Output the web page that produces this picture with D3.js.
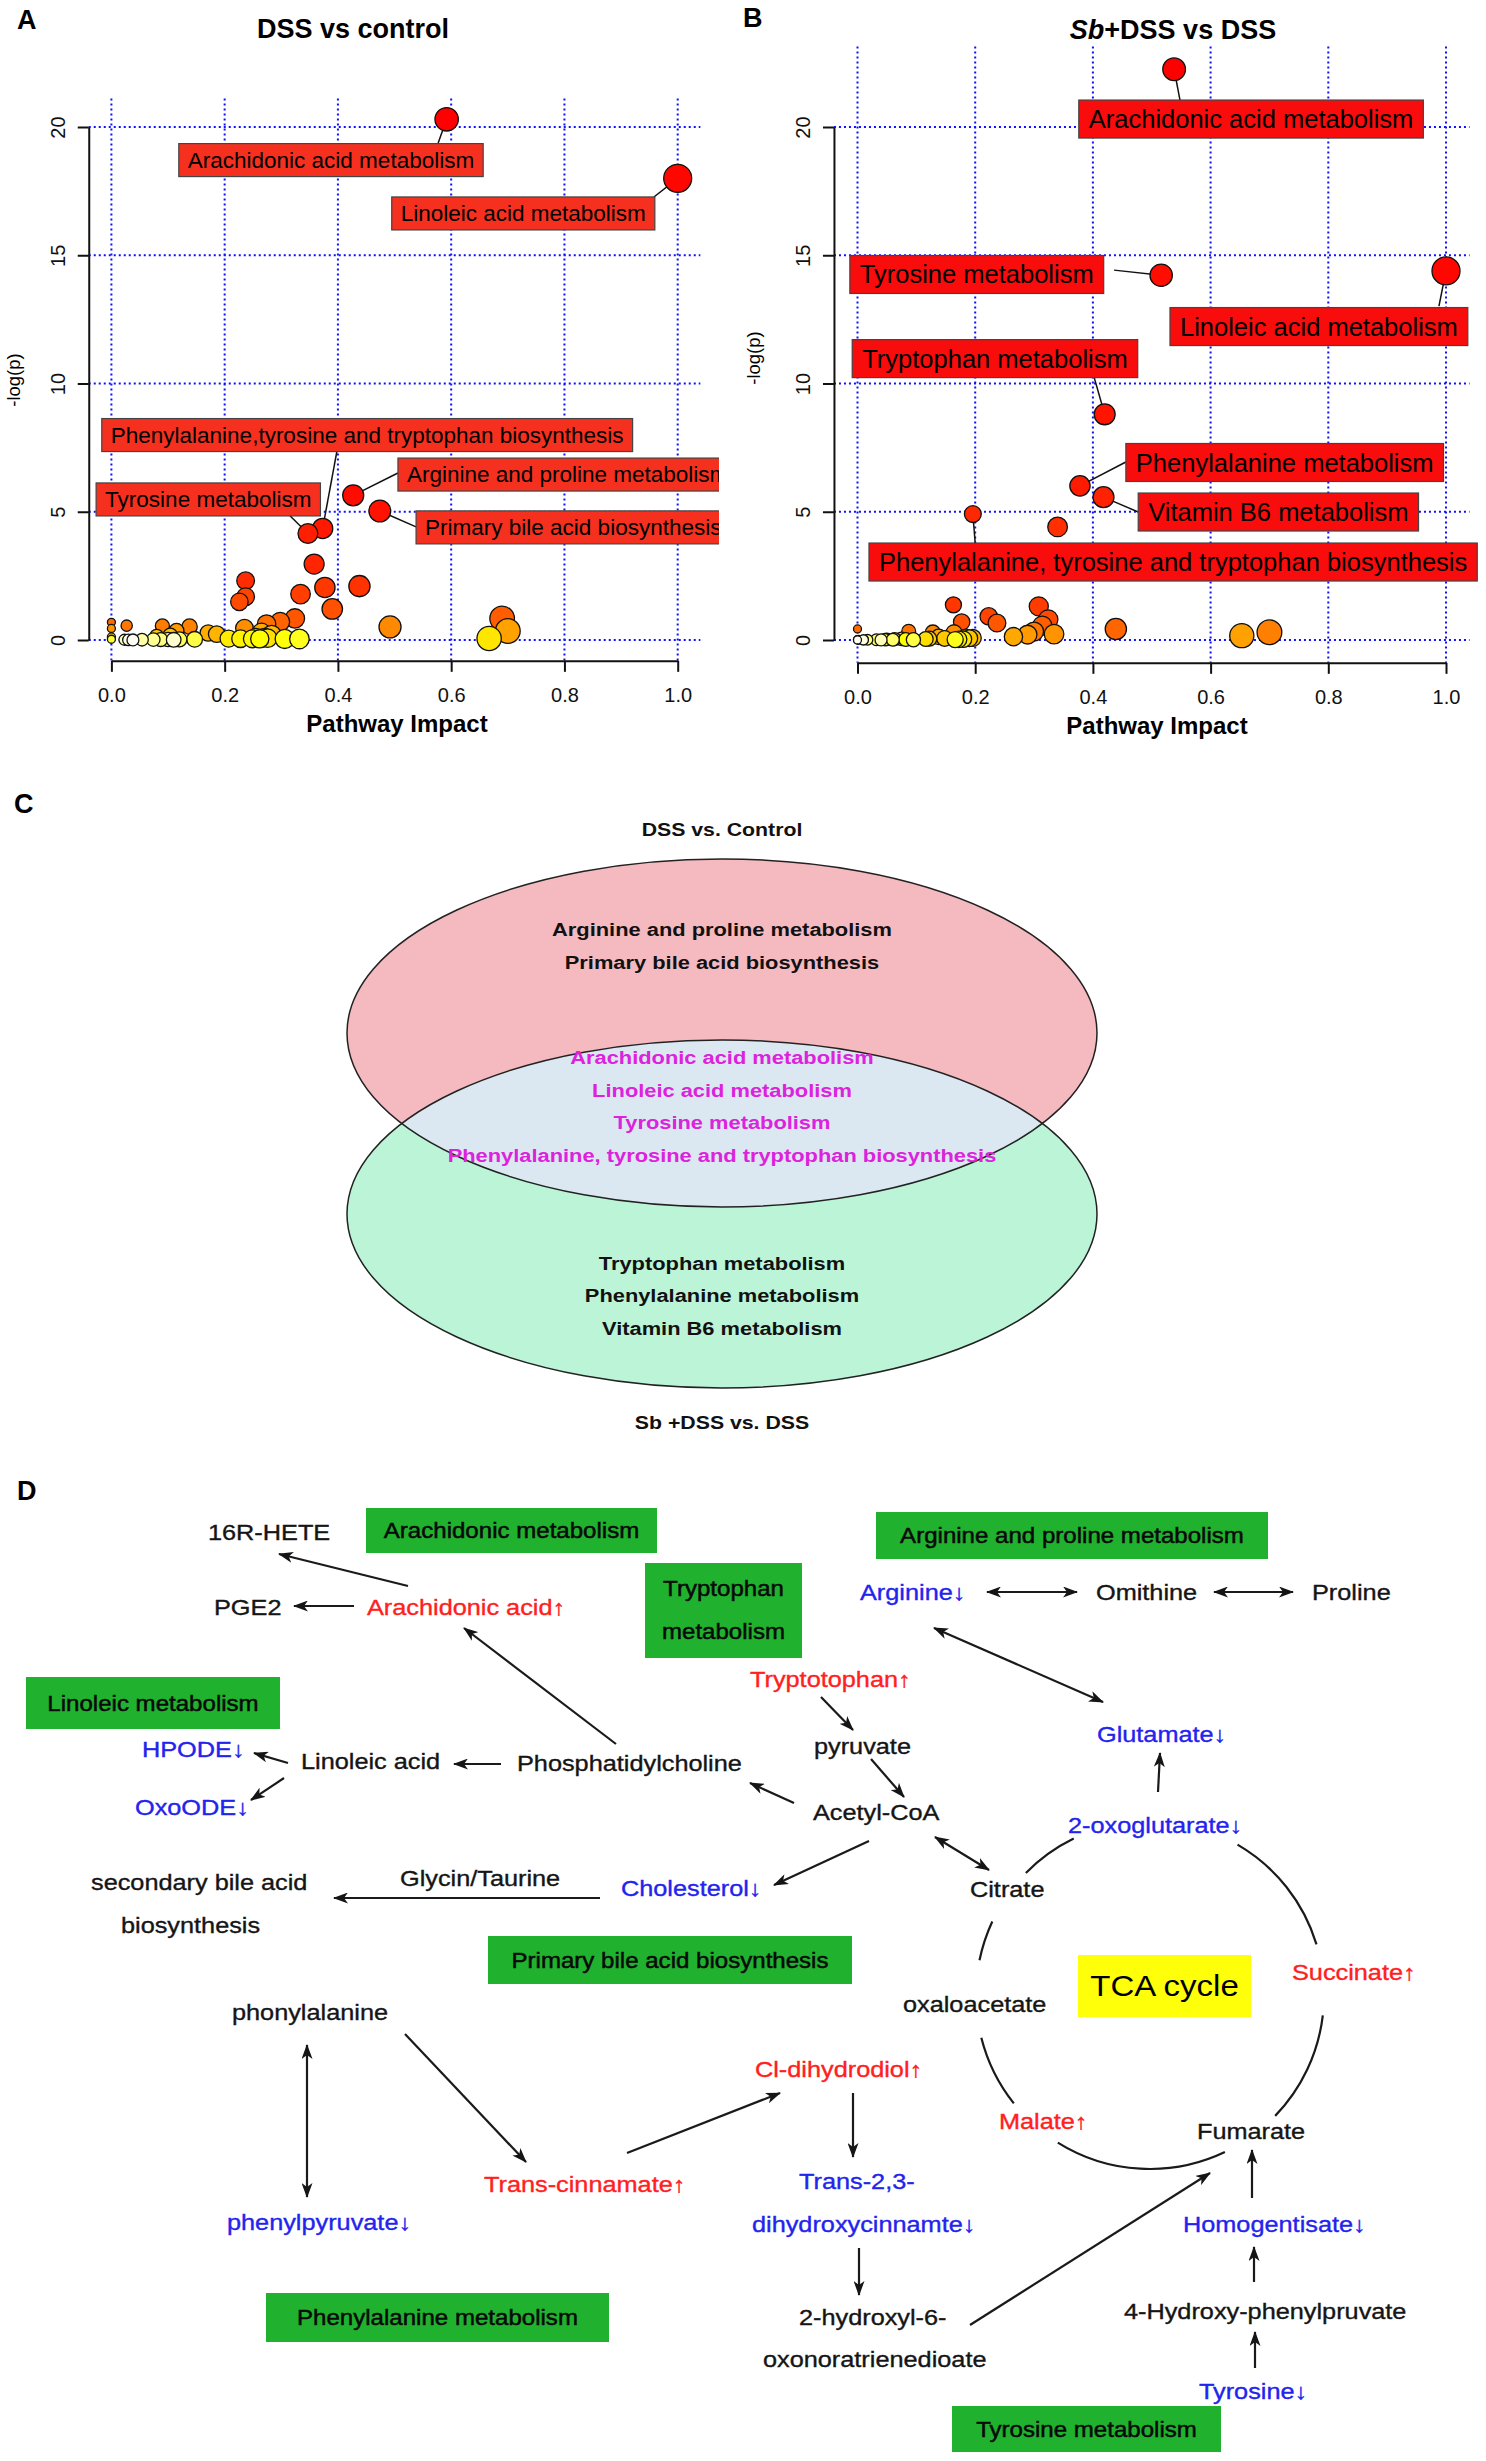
<!DOCTYPE html>
<html><head><meta charset="utf-8">
<script src="https://cdn.jsdelivr.net/npm/d3@7"></script>
<style>
body{margin:0;background:#fff}
svg{display:block}
</style>
</head><body>
<svg id="fig" width="1486" height="2461"></svg>
<script>
// ---------------- DATA ----------------
const xTicks = [0, 0.2, 0.4, 0.6, 0.8, 1.0];
const yTicks = [0, 5, 10, 15, 20];

// Panel A: DSS vs control  (pathway impact, -log(p))
const impactA = [0.592, 1.0, 0.427, 0.474, 0.373, 0.347, 0.358, 0.237, 0.438, 0.377, 0.334, 0.237, 0.226, 0.39, 0.324, 0.69,
  0.298, 0.0, 0.274, 0.027, 0.09, 0.138, 0.492, 0.235, 0.0, 0.115, 0.70, 0.265, 0.171, 0.186, 0.283, 0.104, 0.08, 0.0, 0.667, 0.207,
  0.228, 0.249, 0.262, 0.276, 0.306, 0.332, 0.27, 0.255, 0.147, 0.12, 0.10, 0.087, 0.074, 0.054, 0.0, 0.023, 0.11, 0.038, 0.03];
const logpA = [20.3, 18.0, 5.64, 5.03, 4.35, 4.15, 2.96, 2.31, 2.10, 2.05, 1.79, 1.69, 1.49, 1.21, 0.84, 0.84,
  0.71, 0.69, 0.62, 0.56, 0.55, 0.52, 0.51, 0.46, 0.45, 0.36, 0.35, 0.30, 0.27, 0.23, 0.21, 0.18, 0.15, 0.12, 0.06, 0.055,
  0.05, 0.048, 0.045, 0.07, 0.04, 0.04, 0.09, 0.1, 0.025, 0.022, 0.02, 0.018, 0.015, 0.012, 0.03, 0.01, 0.008, 0.002, 0.004];
const labelNamesA = ["Arachidonic acid metabolism", "Linoleic acid metabolism", "Arginine and proline metabolism",
  "Primary bile acid biosynthesis", "Phenylalanine,tyrosine and tryptophan biosynthesis", "Tyrosine metabolism"];
const labelPointA = [0, 1, 2, 3, 4, 5];

// Panel B: Sb+DSS vs DSS
const impactB = [0.538, 1.0, 0.516, 0.42, 0.378, 0.418, 0.196, 0.34, 0.163, 0.308, 0.223, 0.324, 0.177, 0.237, 0.314, 0.439,
  0.0, 0.087, 0.30, 0.70, 0.128, 0.164, 0.334, 0.289, 0.653, 0.265, 0.138, 0.184, 0.196, 0.19, 0.148, 0.122, 0.075, 0.116,
  0.063, 0.18, 0.172, 0.082, 0.166, 0.047, 0.032, 0.017, 0.002, 0.0, 0.0, 0.05, 0.01, 0.0, 0.01, 0.04, 0.06, 0.095];
const logpB = [22.25, 14.39, 14.22, 8.8, 6.01, 5.57, 4.91, 4.41, 1.37, 1.31, 0.92, 0.80, 0.70, 0.66, 0.56, 0.43,
  0.43, 0.34, 0.33, 0.30, 0.29, 0.28, 0.23, 0.21, 0.17, 0.13, 0.12, 0.10, 0.08, 0.07, 0.06, 0.05, 0.045, 0.04,
  0.035, 0.03, 0.025, 0.02, 0.015, 0.012, 0.01, 0.008, 0.005, 0.003, 0.018, 0.022, 0.006, 0.001, 0.002, 0.004, 0.009, 0.011];
const labelNamesB = ["Arachidonic acid metabolism", "Linoleic acid metabolism", "Tyrosine metabolism", "Tryptophan metabolism",
  "Phenylalanine metabolism", "Vitamin B6 metabolism", "Phenylalanine, tyrosine and tryptophan biosynthesis"];
const labelPointB = [0, 1, 2, 3, 4, 5, 6];

// Panel C: Venn
const vennTitleTop = "DSS vs. Control";
const vennTitleBottom = "Sb +DSS vs. DSS";
const vennOnlyTop = ["Arginine and proline metabolism", "Primary bile acid biosynthesis"];
const vennShared = ["Arachidonic acid metabolism", "Linoleic acid metabolism", "Tyrosine metabolism",
  "Phenylalanine, tyrosine and tryptophan biosynthesis"];
const vennOnlyBottom = ["Tryptophan metabolism", "Phenylalanine metabolism", "Vitamin B6 metabolism"];

// Panel D: pathway diagram content
const pathwayBoxNames = [["Arachidonic metabolism"], ["Tryptophan", "metabolism"], ["Linoleic metabolism"],
  ["Arginine and proline metabolism"], ["Primary bile acid biosynthesis"], ["Phenylalanine metabolism"], ["Tyrosine metabolism"]];
const metaboliteNames = ["16R-HETE", "PGE2", "Arachidonic acid↑", "HPODE↓", "OxoODE↓", "Linoleic acid", "Phosphatidylcholine",
  "secondary bile acid", "biosynthesis", "Glycin/Taurine", "Cholesterol↓", "Arginine↓", "Omithine", "Proline", "Tryptotophan↑",
  "pyruvate", "Acetyl-CoA", "Citrate", "Glutamate↓", "2-oxoglutarate↓", "Succinate↑", "oxaloacetate", "Malate↑", "Fumarate",
  "Cl-dihydrodiol↑", "Trans-2,3-", "dihydroxycinnamte↓", "2-hydroxyl-6-", "oxonoratrienedioate", "Homogentisate↓",
  "4-Hydroxy-phenylpruvate", "Tyrosine↓", "phonylalanine", "phenylpyruvate↓", "Trans-cinnamate↑"];
const metaboliteChange = ["none", "none", "up", "down", "down", "none", "none",
  "none", "none", "none", "down", "down", "none", "none", "up",
  "none", "none", "none", "down", "down", "up", "none", "up", "none",
  "up", "down", "down", "none", "none", "down",
  "none", "down", "none", "down", "up"];

// ---------------- LAYOUT (positions / styles) ----------------
const FONT = '"Liberation Sans", Arial, Helvetica, sans-serif';
// label boxes: [box left x, box centre y, leader end x, leader end y] in data units
const labelLayoutA = [[0.119, 18.71, 0.577, 19.38], [0.495, 16.63, 0.958, 17.27], [0.506, 6.45, 0.506, 6.51],
  [0.538, 4.39, 0.538, 4.41], [-0.017, 7.99, 0.398, 7.33], [-0.027, 5.48, 0.314, 4.87]];
const labelLayoutB = [[0.376, 20.31, 0.548, 21.05], [0.531, 12.22, 0.988, 13.02], [-0.013, 14.25, 0.436, 14.42],
  [-0.009, 10.97, 0.402, 10.25], [0.456, 6.92, 0.456, 6.94], [0.477, 4.99, 0.477, 4.99], [0.0195, 3.04, 0.2, 3.78]];

const boxLayout = [[366, 1508, 291, 45], [645, 1563, 157, 95], [26, 1677, 254, 52], [876, 1512, 392, 47],
  [488, 1936, 364, 48], [266, 2293, 343, 49], [952, 2406, 269, 46]];
const metaboliteLayout = [[208, 1533], [214, 1608], [367, 1608], [142, 1750], [135, 1808], [301, 1762], [517, 1764],
  [91, 1883], [121, 1926], [400, 1879], [621, 1889], [860, 1593], [1096, 1593], [1312, 1593], [750, 1680],
  [814, 1747], [813, 1813], [970, 1890], [1097, 1735], [1068, 1826], [1292, 1973], [903, 2005], [999, 2122], [1197, 2132],
  [755, 2070], [799, 2182], [752, 2225], [799, 2318], [763, 2360], [1183, 2225],
  [1124, 2312], [1199, 2392], [232, 2013], [227, 2223], [484, 2185]];
// arrows: [x1,y1,x2,y2,double]
const arrowLayout = [[408, 1586, 279, 1554, 0], [354, 1606, 294, 1606, 0], [616, 1744, 464, 1628, 0], [288, 1763, 254, 1753, 0],
  [284, 1778, 251, 1800, 0], [501, 1764, 454, 1764, 0], [600, 1898, 334, 1898, 0], [987, 1592, 1077, 1592, 1],
  [1214, 1592, 1293, 1592, 1], [821, 1697, 853, 1730, 0], [871, 1759, 904, 1797, 0], [794, 1803, 750, 1783, 0],
  [869, 1841, 774, 1885, 0], [935, 1837, 989, 1870, 1], [934, 1628, 1103, 1702, 1], [1158, 1792, 1160, 1753, 0],
  [307, 2045, 307, 2197, 1], [405, 2034, 526, 2162, 0], [627, 2153, 780, 2093, 0], [853, 2093, 853, 2157, 0],
  [859, 2248, 859, 2295, 0], [970, 2325, 1210, 2173, 0], [1252, 2198, 1252, 2150, 0], [1254, 2282, 1254, 2247, 0],
  [1255, 2368, 1255, 2332, 0]];
const tcaCentre = [1150, 1995], tcaRadius = 174;
const tcaArcs = [[-135.5, -116], [-59.8, -16.9], [6.7, 44], [64.5, 122], [141.5, 165.8], [191.5, 205]];

// ---------------- DRAW ----------------
const svg = d3.select("#fig").attr("font-family", FONT);
const defs = svg.append("defs");

function heatColors(n) {
  const j = Math.floor(n / 4), i = n - j, out = [];
  for (let k = 0; k < i; k++) {
    const h = i > 1 ? k / (i - 1) / 6 : 0;
    out.push(d3.rgb(255, Math.round(255 * 6 * h), 0).formatHex());
  }
  for (let k = 0; k < j; k++) {
    const s0 = 1 - 1 / (2 * j), s1 = 1 / (2 * j);
    const s = j > 1 ? s0 + (s1 - s0) * k / (j - 1) : s0;
    out.push(d3.rgb(255, 255, Math.round(255 * (1 - s))).formatHex());
  }
  return out;
}

function panelLetter(t, x, y) {
  svg.append("text").attr("x", x).attr("y", y).attr("font-size", 27).attr("font-weight", "bold").attr("fill", "#000").text(t);
}

function drawScatter(cfg) {
  const g = svg.append("g");
  if (cfg.clipW) {
    defs.append("clipPath").attr("id", cfg.id + "clip").append("rect")
      .attr("x", cfg.clipX).attr("y", 0).attr("width", cfg.clipW).attr("height", 770);
    g.attr("clip-path", `url(#${cfg.id}clip)`);
  }
  const x = d3.scaleLinear().domain([0, 1]).range(cfg.xRange);
  const y = d3.scaleLinear().domain([0, 20]).range(cfg.yRange);
  const rScale = d3.scaleSqrt().domain([0, 1]).range([4, 14]);
  const pts = cfg.impact.map((v, i) => ({ x: v, y: cfg.logp[i], i }));
  const yMax = d3.max(pts, d => d.y);
  const xLo = x(-0.04), xHi = x(1.04), yTop = y(yMax * 1.04), yBot = y(-yMax * 0.04);

  // grid
  g.append("g").selectAll("line").data(xTicks).join("line")
    .attr("x1", d => x(d)).attr("x2", d => x(d)).attr("y1", yTop).attr("y2", yBot)
    .attr("stroke", "#1010ff").attr("stroke-width", 2).attr("stroke-dasharray", "2,3");
  g.append("g").selectAll("line").data(yTicks).join("line")
    .attr("x1", xLo).attr("x2", xHi).attr("y1", d => y(d)).attr("y2", d => y(d))
    .attr("stroke", "#1010ff").attr("stroke-width", 2).attr("stroke-dasharray", "2,3");

  // axes
  const ax = g.append("g").attr("transform", `translate(0,${yBot})`)
    .call(d3.axisBottom(x).tickValues(xTicks).tickFormat(d3.format(".1f")).tickSize(11).tickSizeOuter(0));
  ax.attr("font-family", FONT).attr("font-size", 20);
  ax.select(".domain").attr("stroke", "#111").attr("stroke-width", 2);
  ax.selectAll(".tick line").attr("stroke", "#111").attr("stroke-width", 2);
  ax.selectAll(".tick text").attr("y", 27).attr("fill", "#111");

  const ay = g.append("g").attr("transform", `translate(${xLo},0)`)
    .call(d3.axisLeft(y).tickValues(yTicks).tickSize(11).tickSizeOuter(0));
  ay.attr("font-family", FONT).attr("font-size", 20);
  ay.select(".domain").attr("stroke", "#111").attr("stroke-width", 2);
  ay.selectAll(".tick line").attr("stroke", "#111").attr("stroke-width", 2);
  ay.selectAll(".tick text").attr("x", 0).attr("dy", null).attr("text-anchor", "middle")
    .attr("transform", "translate(-23.5,0) rotate(-90)").attr("fill", "#111");

  // axis titles
  g.append("text").attr("x", cfg.xTitle[0]).attr("y", cfg.xTitle[1]).attr("text-anchor", "middle")
    .attr("dominant-baseline", "central").attr("font-size", 24).attr("font-weight", "bold").text("Pathway Impact");
  g.append("text").attr("transform", `translate(${cfg.yTitle[0]},${cfg.yTitle[1]}) rotate(-90)`)
    .attr("text-anchor", "middle").attr("font-size", 18.5).text("-log(p)");

  // title
  const tt = g.append("text").attr("x", cfg.title[0]).attr("y", cfg.title[1]).attr("text-anchor", "middle")
    .attr("dominant-baseline", "central").attr("font-size", 27).attr("font-weight", "bold");
  cfg.titleParts.forEach(p => tt.append("tspan").attr("font-style", p[1] ? "italic" : "normal").text(p[0]));

  // leader lines
  g.append("g").selectAll("line").data(cfg.labelPoint).join("line")
    .attr("x1", (d) => x(pts[d].x)).attr("y1", d => y(pts[d].y))
    .attr("x2", (d, k) => x(cfg.labelLayout[k][2])).attr("y2", (d, k) => y(cfg.labelLayout[k][3]))
    .attr("stroke", "#111").attr("stroke-width", 1.5);

  // points: sorted by -log(p) descending, coloured by rank with heat colours
  const sorted = pts.slice().sort((a, b) => b.y - a.y);
  const cols = heatColors(sorted.length);
  sorted.forEach((d, k) => d.col = cols[k]);
  g.append("g").selectAll("circle").data(sorted).join("circle")
    .attr("cx", d => x(d.x)).attr("cy", d => y(d.y)).attr("r", d => rScale(d.x))
    .attr("fill", d => d.col).attr("stroke", "#111").attr("stroke-width", 1.3);

  // label boxes
  cfg.labelNames.forEach((name, k) => {
    const L = cfg.labelLayout[k];
    const lg = g.append("g");
    const rect = lg.append("rect");
    const t = lg.append("text").attr("x", x(L[0]) + cfg.pad).attr("y", y(L[1])).attr("dominant-baseline", "central")
      .attr("font-size", cfg.labelFont).attr("fill", "#000").text(name);
    const w = t.node().getComputedTextLength();
    rect.attr("x", x(L[0])).attr("y", y(L[1]) - cfg.boxH / 2).attr("width", w + 2 * cfg.pad).attr("height", cfg.boxH)
      .attr("fill", cfg.boxFill).attr("stroke", "#444").attr("stroke-width", 1.2);
  });
}

drawScatter({
  id: "A", impact: impactA, logp: logpA, labelNames: labelNamesA, labelPoint: labelPointA, labelLayout: labelLayoutA,
  xRange: [111.4, 677.7], yRange: [640, 127], clipX: 0, clipW: 719,
  xTitle: [397, 723], yTitle: [20, 380], title: [353, 29], titleParts: [["DSS vs control", false]],
  pad: 9, boxH: 33, labelFont: 22.5, boxFill: "#f5301f"
});
drawScatter({
  id: "B", impact: impactB, logp: logpB, labelNames: labelNamesB, labelPoint: labelPointB, labelLayout: labelLayoutB,
  xRange: [857.5, 1446], yRange: [640, 127],
  xTitle: [1157, 725], yTitle: [760, 358], title: [1173, 30], titleParts: [["Sb", true], ["+DSS vs DSS", false]],
  pad: 10, boxH: 38, labelFont: 25.5, boxFill: "#f80c0c"
});
panelLetter("A", 17, 29);
panelLetter("B", 743, 27);

// ---------------- Panel C: Venn ----------------
const vTop = { cx: 722, cy: 1033, rx: 375, ry: 174 }, vBot = { cx: 722, cy: 1214, rx: 375, ry: 174 };
defs.append("clipPath").attr("id", "vennTopClip").append("ellipse")
  .attr("cx", vTop.cx).attr("cy", vTop.cy).attr("rx", vTop.rx).attr("ry", vTop.ry);
const venn = svg.append("g");
const ell = (e) => venn.append("ellipse").attr("cx", e.cx).attr("cy", e.cy).attr("rx", e.rx).attr("ry", e.ry);
ell(vTop).attr("fill", "#f4babf");
ell(vBot).attr("fill", "#bcf4d7");
ell(vBot).attr("fill", "#dbe8f1").attr("clip-path", "url(#vennTopClip)");
ell(vTop).attr("fill", "none").attr("stroke", "#222").attr("stroke-width", 1.5);
ell(vBot).attr("fill", "none").attr("stroke", "#222").attr("stroke-width", 1.5);

function vennText(t, y, col, size) {
  venn.append("g").attr("transform", `translate(722,${y}) scale(1.15,1)`)
    .append("text").attr("text-anchor", "middle").attr("dominant-baseline", "central")
    .attr("font-size", size || 19).attr("font-weight", "bold").attr("fill", col).text(t);
}
vennText(vennTitleTop, 830, "#111", 18.5);
vennText(vennTitleBottom, 1423, "#111", 18.5);
vennOnlyTop.forEach((t, i) => vennText(t, 929 + i * 33, "#111"));
vennShared.forEach((t, i) => vennText(t, 1057 + i * 32.7, "#dd22dd"));
vennOnlyBottom.forEach((t, i) => vennText(t, 1262.6 + i * 32.7, "#111"));
panelLetter("C", 14, 813);

// ---------------- Panel D: pathway diagram ----------------
const D = svg.append("g");
defs.append("marker").attr("id", "ah").attr("viewBox", "0 0 15 11").attr("refX", 14).attr("refY", 5.5)
  .attr("markerWidth", 15).attr("markerHeight", 11).attr("markerUnits", "userSpaceOnUse")
  .attr("orient", "auto-start-reverse")
  .append("path").attr("d", "M0,0 L15,5.5 L0,11 L4,5.5 Z").attr("fill", "#151515");

// TCA cycle arcs
const arcPath = (a0, a1) => {
  const r = tcaRadius, [cx, cy] = tcaCentre, t0 = a0 * Math.PI / 180, t1 = a1 * Math.PI / 180;
  return `M${cx + r * Math.cos(t0)},${cy + r * Math.sin(t0)} A${r},${r} 0 0 1 ${cx + r * Math.cos(t1)},${cy + r * Math.sin(t1)}`;
};
D.append("g").selectAll("path").data(tcaArcs).join("path").attr("d", d => arcPath(d[0], d[1]))
  .attr("fill", "none").attr("stroke", "#1a1a1a").attr("stroke-width", 2.2);

// arrows
D.append("g").selectAll("line").data(arrowLayout).join("line")
  .attr("x1", d => d[0]).attr("y1", d => d[1]).attr("x2", d => d[2]).attr("y2", d => d[3])
  .attr("stroke", "#1a1a1a").attr("stroke-width", 2.2)
  .attr("marker-end", "url(#ah)").attr("marker-start", d => d[4] ? "url(#ah)" : null);

// green pathway boxes
pathwayBoxNames.forEach((lines, i) => {
  const [bx, by, bw, bh] = boxLayout[i];
  D.append("rect").attr("x", bx).attr("y", by).attr("width", bw).attr("height", bh).attr("fill", "#20b22f");
  lines.forEach((t, k) => {
    const cy = lines.length === 1 ? by + bh / 2 : by + bh * (k === 0 ? 0.27 : 0.72);
    D.append("g").attr("transform", `translate(${bx + bw / 2},${cy}) scale(1.12,1)`)
      .append("text").attr("text-anchor", "middle").attr("dominant-baseline", "central")
      .attr("font-size", 21.5).attr("fill", "#0a0a0a").attr("stroke", "#0a0a0a").attr("stroke-width", 0.5).text(t);
  });
});

// TCA cycle yellow box
D.append("rect").attr("x", 1078).attr("y", 1955).attr("width", 173).attr("height", 62).attr("fill", "#ffff0a");
D.append("g").attr("transform", "translate(1164.5,1986) scale(1.1,1)")
  .append("text").attr("text-anchor", "middle").attr("dominant-baseline", "central")
  .attr("font-size", 30).attr("fill", "#000").text("TCA cycle");

// metabolite labels
const changeColour = { up: "#ff2020", down: "#2323ee", none: "#151515" };
metaboliteNames.forEach((t, i) => {
  const [mx, my] = metaboliteLayout[i];
  const c = changeColour[metaboliteChange[i]];
  D.append("g").attr("transform", `translate(${mx},${my}) scale(1.15,1)`)
    .append("text").attr("dominant-baseline", "central").attr("font-size", 22)
    .attr("fill", c).attr("stroke", c).attr("stroke-width", 0.35).text(t);
});
panelLetter("D", 17, 1500);
</script>
</body></html>
